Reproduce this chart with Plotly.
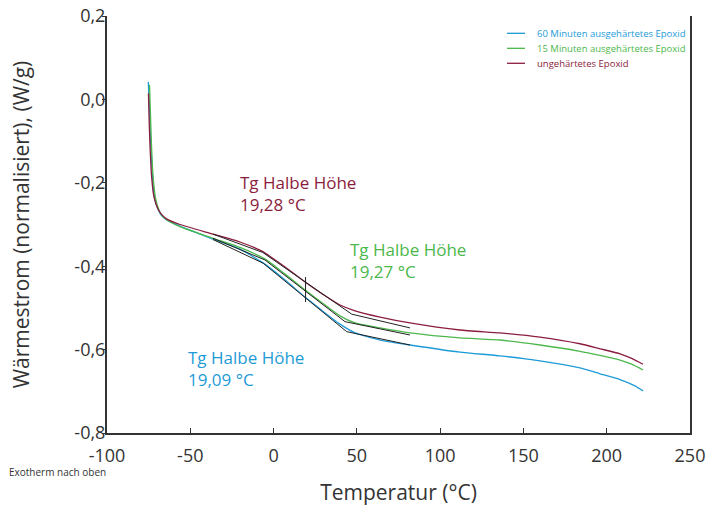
import plotly.graph_objects as go

# ---- data ----
blue_T = [-75.2, -74.5, -73.9, -73.2, -72.4, -71.2, -69.4, -67.6, -64.2, -56.2, -36.4, -20.2, -6.3, 6.9, 18.9, 30.9, 39.9, 48.9, 63.9, 81.9, 111.9, 135.9, 159.9, 183.9, 196.0, 208.0, 217.0, 221.8]
blue_Y = [0.042, -0.025, -0.097, -0.145, -0.205, -0.241, -0.263, -0.277, -0.289, -0.304, -0.335, -0.359, -0.392, -0.433, -0.474, -0.512, -0.539, -0.560, -0.577, -0.589, -0.606, -0.615, -0.627, -0.644, -0.658, -0.672, -0.687, -0.699]

green_T = [-74.5, -73.9, -73.3, -72.4, -70.9, -68.8, -67.0, -64.0, -56.2, -36.4, -20.2, -5.1, 6.9, 18.9, 30.9, 39.9, 48.9, 63.9, 81.9, 111.9, 135.9, 159.9, 183.9, 196.0, 208.0, 215.0, 221.8]
green_Y = [0.035, -0.037, -0.109, -0.181, -0.236, -0.265, -0.278, -0.289, -0.305, -0.333, -0.355, -0.383, -0.419, -0.457, -0.493, -0.519, -0.536, -0.548, -0.560, -0.572, -0.577, -0.589, -0.604, -0.614, -0.625, -0.635, -0.649]

red_T = [-75.1, -74.8, -74.2, -73.3, -71.8, -69.4, -67.0, -64.0, -56.2, -36.4, -20.2, -7.0, 6.9, 18.9, 30.9, 39.9, 48.9, 63.9, 81.9, 111.9, 135.9, 159.9, 183.9, 196.0, 208.0, 215.0, 221.8]
red_Y = [0.015, -0.037, -0.109, -0.181, -0.234, -0.263, -0.277, -0.287, -0.300, -0.323, -0.342, -0.364, -0.402, -0.438, -0.471, -0.493, -0.507, -0.522, -0.536, -0.553, -0.560, -0.570, -0.586, -0.598, -0.610, -0.621, -0.635]

# Tg construction lines (tangents)
tan_red_T = [-36.4, -6.5, 46.9, 81.9]
tan_red_Y = [-0.323, -0.367, -0.515, -0.548]
tan_green_T = [-36.4, -5.2, 42.9, 81.9]
tan_green_Y = [-0.333, -0.385, -0.533, -0.565]
tan_blue_T = [-36.4, -6.2, 43.9, 81.9]
tan_blue_Y = [-0.336, -0.393, -0.557, -0.589]
tg_mark_T = [19.2, 19.2]
tg_mark_Y = [-0.426, -0.486]

x_ticks = [-100, -50, 0, 50, 100, 150, 200, 250]
y_ticks = [-0.8, -0.6, -0.4, -0.2, 0.0, 0.2]
y_ticktext = ["-0,8", "-0,6", "-0,4", "-0,2", "0,0", "0,2"]
x_ticktext = ["-100", "-50", "0", "50", "100", "150", "200", "250"]

names = ["60 Minuten ausgehärtetes Epoxid", "15 Minuten ausgehärtetes Epoxid", "ungehärtetes Epoxid"]
tg_labels = ["19,28 °C", "19,27 °C", "19,09 °C"]
BLUE, GREEN, RED = "#1e9bd7", "#4cb84c", "#8b1d3d"
FONT = "Open Sans"
TXT = "#333333"

fig = go.Figure()
series = [(blue_T, blue_Y, BLUE, names[0]), (green_T, green_Y, GREEN, names[1]), (red_T, red_Y, RED, names[2])]
for T, Y, c, n in series:
    fig.add_trace(go.Scatter(x=T, y=Y, mode="lines", name=n, showlegend=False,
                             line=dict(color=c, width=1.3, shape="spline", smoothing=0.5)))

for T, Y in [(tan_red_T, tan_red_Y), (tan_green_T, tan_green_Y), (tan_blue_T, tan_blue_Y), (tg_mark_T, tg_mark_Y)]:
    fig.add_trace(go.Scatter(x=T, y=Y, mode="lines", showlegend=False, hoverinfo="skip",
                             line=dict(color="#222222", width=1)))

# legend (drawn in paper coordinates)
leg_rows = [0.9585, 0.9225, 0.8866]
for (T, Y, c, n), ly in zip(series, leg_rows):
    fig.add_shape(type="line", xref="paper", yref="paper", x0=0.686, x1=0.717, y0=ly, y1=ly,
                  line=dict(color=c, width=1.3))
    fig.add_annotation(x=0.7341, y=ly, xref="paper", yref="paper", text=n, showarrow=False,
                       xanchor="left", yanchor="middle", font=dict(family=FONT, size=9.5, color=c))

ann_font = dict(family=FONT, size=17)
for (ax, ay, txt, c) in [(-21.4, -0.2245, tg_labels[0], RED),
                         (44.5, -0.3855, tg_labels[1], GREEN),
                         (-52.6, -0.6465, tg_labels[2], BLUE)]:
    fig.add_annotation(x=ax, y=ay, text="Tg Halbe Höhe<br>" + txt, showarrow=False, xanchor="left",
                       yanchor="middle", align="left", font=dict(ann_font, color=c))

fig.add_annotation(x=-0.1715, y=-0.0935, xref="paper", yref="paper", text="Exotherm nach oben", showarrow=False,
                   xanchor="left", yanchor="middle", font=dict(family=FONT, size=10, color=TXT))

fig.update_layout(
    width=708, height=506,
    margin=dict(l=107, r=18, t=16, b=73),
    paper_bgcolor="white", plot_bgcolor="white",
    font=dict(family=FONT, color=TXT),
    showlegend=False,
    xaxis=dict(range=[-100, 250], tickvals=x_ticks, ticktext=x_ticktext, ticks="inside", ticklen=5,
               tickcolor=TXT, showline=True, linecolor=TXT, linewidth=2, showgrid=False, zeroline=False,
               automargin=False, ticklabelstandoff=5, ticklabeloverflow="allow",
               tickfont=dict(size=18, color=TXT),
               title=dict(text="Temperatur (°C)", font=dict(size=21, color=TXT), standoff=22)),
    yaxis=dict(range=[-0.8, 0.2], tickvals=y_ticks, ticktext=y_ticktext, ticks="outside", ticklen=3,
               tickcolor=TXT, showline=True, mirror=True, linecolor=TXT, linewidth=2, showgrid=False, zeroline=False,
               automargin=False, ticklabelstandoff=-7, ticklabeloverflow="allow",
               tickfont=dict(size=18, color=TXT),
               title=dict(text="Wärmestrom (normalisiert), (W/g)", font=dict(size=21, color=TXT), standoff=39)),
)

fig.write_html("out.html", config={"displayModeBar": False},
               post_script="document.body.style.margin='0px';")
